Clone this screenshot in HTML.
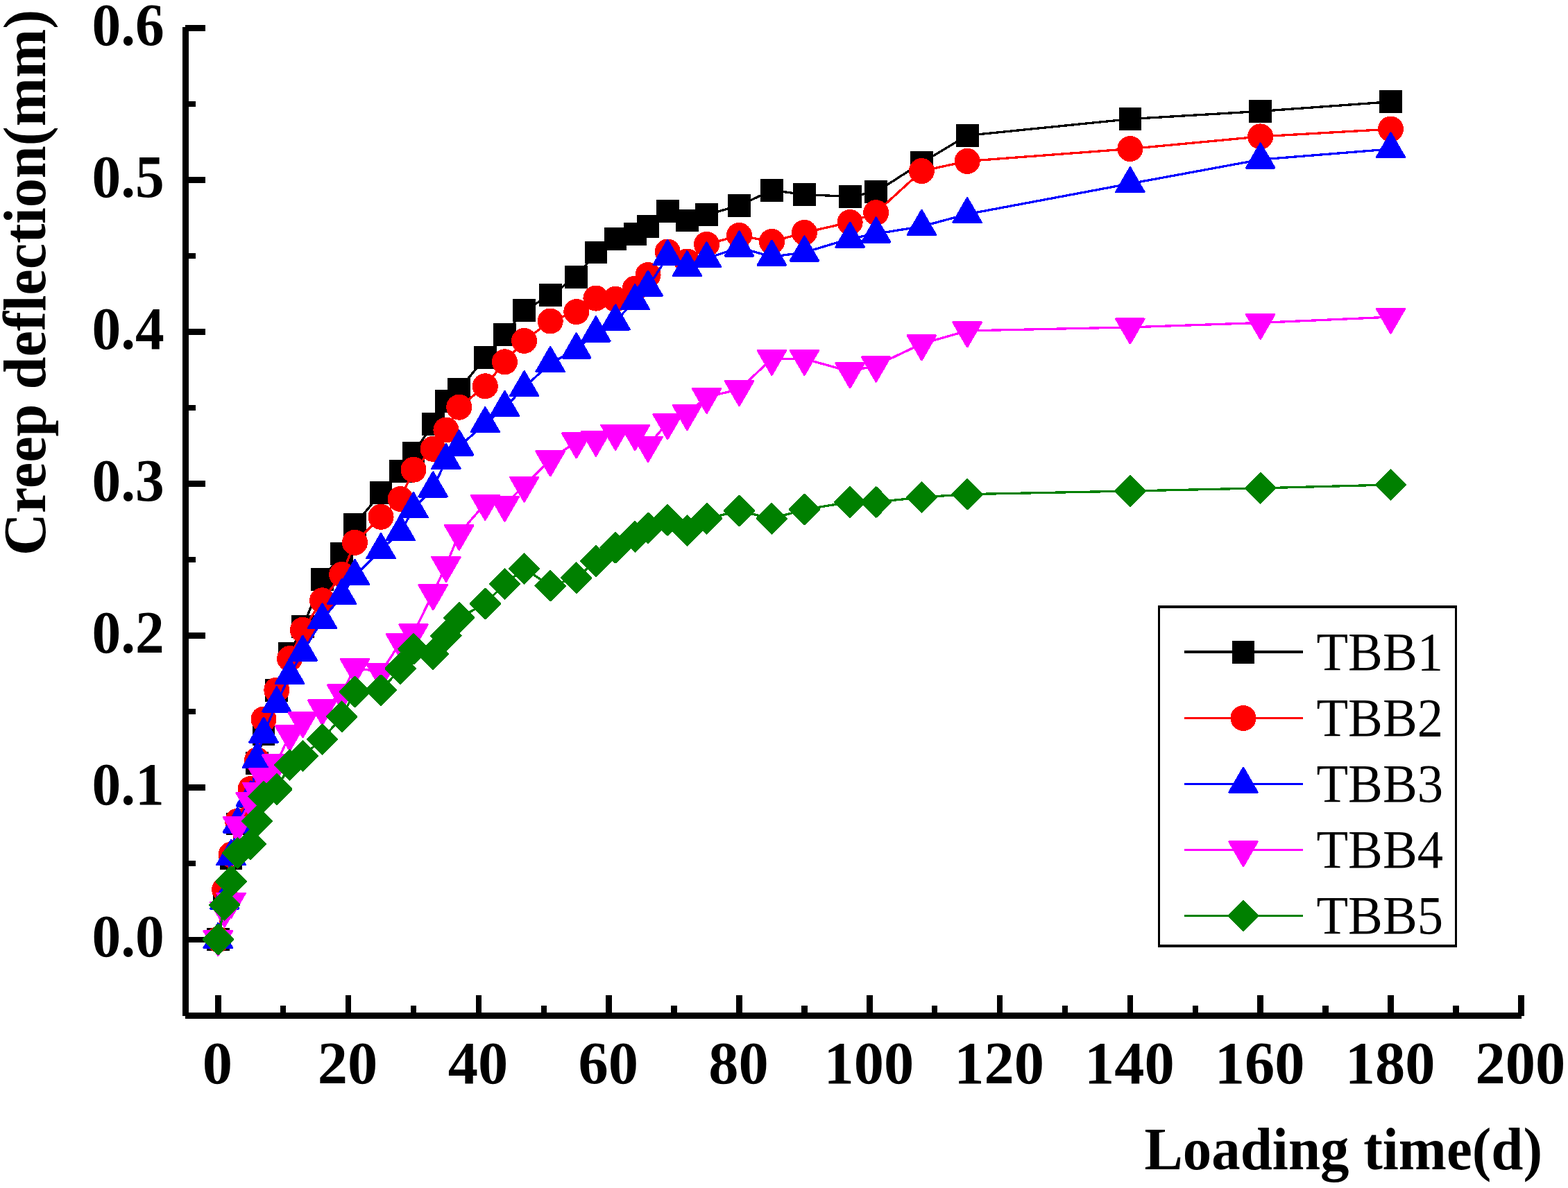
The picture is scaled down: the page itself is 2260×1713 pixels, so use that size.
<!DOCTYPE html>
<html lang="en"><head><meta charset="utf-8"><title>Creep deflection vs loading time</title>
<style>html,body{margin:0;padding:0;background:#fff}body{width:2260px;height:1713px;overflow:hidden}svg{display:block}text{font-family:"Liberation Serif","Times New Roman",Times,serif;fill:#000}.b{font-weight:bold}</style></head><body>
<svg width="2260" height="1713" viewBox="0 0 2260 1713">
<rect width="2260" height="1713" fill="#fff"/>
<g fill="#000" shape-rendering="crispEdges">
<rect x="263" y="39" width="9" height="1426"/>
<rect x="267" y="1460" width="1926" height="9"/>
<rect x="267" y="36" width="29" height="8.5"/>
<rect x="267" y="145.54" width="15" height="8.5"/>
<rect x="267" y="255.08" width="29" height="8.5"/>
<rect x="267" y="364.62" width="15" height="8.5"/>
<rect x="267" y="474.17" width="29" height="8.5"/>
<rect x="267" y="583.71" width="15" height="8.5"/>
<rect x="267" y="693.25" width="29" height="8.5"/>
<rect x="267" y="802.79" width="15" height="8.5"/>
<rect x="267" y="912.33" width="29" height="8.5"/>
<rect x="267" y="1021.88" width="15" height="8.5"/>
<rect x="267" y="1131.42" width="29" height="8.5"/>
<rect x="267" y="1240.96" width="15" height="8.5"/>
<rect x="267" y="1350.5" width="29" height="8.5"/>
<rect x="310" y="1435" width="8.5" height="30"/>
<rect x="403.9" y="1450" width="8.5" height="15"/>
<rect x="497.8" y="1435" width="8.5" height="30"/>
<rect x="591.7" y="1450" width="8.5" height="15"/>
<rect x="685.6" y="1435" width="8.5" height="30"/>
<rect x="779.5" y="1450" width="8.5" height="15"/>
<rect x="873.4" y="1435" width="8.5" height="30"/>
<rect x="967.3" y="1450" width="8.5" height="15"/>
<rect x="1061.2" y="1435" width="8.5" height="30"/>
<rect x="1155.1" y="1450" width="8.5" height="15"/>
<rect x="1249" y="1435" width="8.5" height="30"/>
<rect x="1342.9" y="1450" width="8.5" height="15"/>
<rect x="1436.8" y="1435" width="8.5" height="30"/>
<rect x="1530.7" y="1450" width="8.5" height="15"/>
<rect x="1624.6" y="1435" width="8.5" height="30"/>
<rect x="1718.5" y="1450" width="8.5" height="15"/>
<rect x="1812.4" y="1435" width="8.5" height="30"/>
<rect x="1906.3" y="1450" width="8.5" height="15"/>
<rect x="2000.2" y="1435" width="8.5" height="30"/>
<rect x="2094.1" y="1450" width="8.5" height="15"/>
<rect x="2188" y="1435" width="8.5" height="30"/>
</g>
<g class="b" font-size="86.5" text-anchor="end">
<text transform="translate(236.8 64.8) scale(0.965 1)">0.6</text>
<text transform="translate(236.8 283.88) scale(0.965 1)">0.5</text>
<text transform="translate(236.8 502.97) scale(0.965 1)">0.4</text>
<text transform="translate(236.8 722.05) scale(0.965 1)">0.3</text>
<text transform="translate(236.8 941.13) scale(0.965 1)">0.2</text>
<text transform="translate(236.8 1160.22) scale(0.965 1)">0.1</text>
<text transform="translate(236.8 1379.3) scale(0.965 1)">0.0</text>
</g>
<g class="b" font-size="86.5" text-anchor="middle">
<text x="313.3" y="1562">0</text>
<text x="501.1" y="1562">20</text>
<text x="688.9" y="1562">40</text>
<text x="876.7" y="1562">60</text>
<text x="1064.5" y="1562">80</text>
<text x="1252.3" y="1562">100</text>
<text x="1440.1" y="1562">120</text>
<text x="1627.9" y="1562">140</text>
<text x="1815.7" y="1562">160</text>
<text x="2003.5" y="1562">180</text>
<text x="2191.3" y="1562">200</text>
</g>
<text class="b" font-size="86.7" transform="translate(1649.5 1686) scale(0.9565 1)">Loading time(d)</text>
<text class="b" font-size="86.7" transform="translate(65 801) rotate(-90) scale(0.9725 1)">Creep deflection(mm)</text>
<g stroke-linejoin="round" shape-rendering="crispEdges">
<g fill="#000000" stroke="#000000"><polyline points="314.3,1354.5 323.69,1292 333.08,1238 342.47,1188 361.25,1148.2 370.64,1100.5 380.03,1058.5 398.81,995.2 417.59,942.5 436.37,903.8 464.54,835.4 492.71,798.7 511.49,756.7 549.05,710.6 577.22,679.5 596,653.7 624.17,611.4 642.95,578.8 661.73,561.8 699.29,515.7 727.46,482.5 755.63,447.6 793.19,425.6 830.75,399.5 858.92,364 887.09,344.8 915.26,337.7 934.04,326.3 962.21,304.2 990.38,318 1018.55,309.5 1065.5,296.5 1112.45,274.4 1159.4,280.5 1225.13,283.5 1262.69,276.7 1328.42,234.7 1394.15,195.4 1628.9,171.6 1816.7,160.4 2004.5,146.7" fill="none" stroke-width="3.3"/>
<path stroke-width="0" d="M297.9 1338.1H330.7V1370.9H297.9ZM307.29 1275.6H340.09V1308.4H307.29ZM316.68 1221.6H349.48V1254.4H316.68ZM326.07 1171.6H358.87V1204.4H326.07ZM344.85 1131.8H377.65V1164.6H344.85ZM354.24 1084.1H387.04V1116.9H354.24ZM363.63 1042.1H396.43V1074.9H363.63ZM382.41 978.8H415.21V1011.6H382.41ZM401.19 926.1H433.99V958.9H401.19ZM419.97 887.4H452.77V920.2H419.97ZM448.14 819H480.94V851.8H448.14ZM476.31 782.3H509.11V815.1H476.31ZM495.09 740.3H527.89V773.1H495.09ZM532.65 694.2H565.45V727H532.65ZM560.82 663.1H593.62V695.9H560.82ZM579.6 637.3H612.4V670.1H579.6ZM607.77 595H640.57V627.8H607.77ZM626.55 562.4H659.35V595.2H626.55ZM645.33 545.4H678.13V578.2H645.33ZM682.89 499.3H715.69V532.1H682.89ZM711.06 466.1H743.86V498.9H711.06ZM739.23 431.2H772.03V464H739.23ZM776.79 409.2H809.59V442H776.79ZM814.35 383.1H847.15V415.9H814.35ZM842.52 347.6H875.32V380.4H842.52ZM870.69 328.4H903.49V361.2H870.69ZM898.86 321.3H931.66V354.1H898.86ZM917.64 309.9H950.44V342.7H917.64ZM945.81 287.8H978.61V320.6H945.81ZM973.98 301.6H1006.78V334.4H973.98ZM1002.15 293.1H1034.95V325.9H1002.15ZM1049.1 280.1H1081.9V312.9H1049.1ZM1096.05 258H1128.85V290.8H1096.05ZM1143 264.1H1175.8V296.9H1143ZM1208.73 267.1H1241.53V299.9H1208.73ZM1246.29 260.3H1279.09V293.1H1246.29ZM1312.02 218.3H1344.82V251.1H1312.02ZM1377.75 179H1410.55V211.8H1377.75ZM1612.5 155.2H1645.3V188H1612.5ZM1800.3 144H1833.1V176.8H1800.3ZM1988.1 130.3H2020.9V163.1H1988.1Z"/>
</g>
<g fill="#ff0000" stroke="#ff0000"><polyline points="314.3,1354.5 323.69,1282.5 333.08,1232.3 342.47,1184 361.25,1137.5 370.64,1096 380.03,1037 398.81,995 417.59,949.6 436.37,908.3 464.54,865.8 492.71,828.4 511.49,782.3 549.05,745.3 577.22,719.5 596,677.2 624.17,647.3 642.95,620 661.73,587.2 699.29,556.8 727.46,521.8 755.63,491.4 793.19,463 830.75,449.6 858.92,430.1 887.09,431.4 915.26,416.2 934.04,396.5 962.21,363 990.38,377 1018.55,352.4 1065.5,339.5 1112.45,348.5 1159.4,335.4 1225.13,320.5 1262.69,306.6 1328.42,246.6 1394.15,232.4 1628.9,214.6 1816.7,196.9 2004.5,186.1" fill="none" stroke-width="3.3"/>
<path stroke-width="3" d="M297.3 1354.5a17 17 0 1 0 34 0a17 17 0 1 0 -34 0ZM306.69 1282.5a17 17 0 1 0 34 0a17 17 0 1 0 -34 0ZM316.08 1232.3a17 17 0 1 0 34 0a17 17 0 1 0 -34 0ZM325.47 1184a17 17 0 1 0 34 0a17 17 0 1 0 -34 0ZM344.25 1137.5a17 17 0 1 0 34 0a17 17 0 1 0 -34 0ZM353.64 1096a17 17 0 1 0 34 0a17 17 0 1 0 -34 0ZM363.03 1037a17 17 0 1 0 34 0a17 17 0 1 0 -34 0ZM381.81 995a17 17 0 1 0 34 0a17 17 0 1 0 -34 0ZM400.59 949.6a17 17 0 1 0 34 0a17 17 0 1 0 -34 0ZM419.37 908.3a17 17 0 1 0 34 0a17 17 0 1 0 -34 0ZM447.54 865.8a17 17 0 1 0 34 0a17 17 0 1 0 -34 0ZM475.71 828.4a17 17 0 1 0 34 0a17 17 0 1 0 -34 0ZM494.49 782.3a17 17 0 1 0 34 0a17 17 0 1 0 -34 0ZM532.05 745.3a17 17 0 1 0 34 0a17 17 0 1 0 -34 0ZM560.22 719.5a17 17 0 1 0 34 0a17 17 0 1 0 -34 0ZM579 677.2a17 17 0 1 0 34 0a17 17 0 1 0 -34 0ZM607.17 647.3a17 17 0 1 0 34 0a17 17 0 1 0 -34 0ZM625.95 620a17 17 0 1 0 34 0a17 17 0 1 0 -34 0ZM644.73 587.2a17 17 0 1 0 34 0a17 17 0 1 0 -34 0ZM682.29 556.8a17 17 0 1 0 34 0a17 17 0 1 0 -34 0ZM710.46 521.8a17 17 0 1 0 34 0a17 17 0 1 0 -34 0ZM738.63 491.4a17 17 0 1 0 34 0a17 17 0 1 0 -34 0ZM776.19 463a17 17 0 1 0 34 0a17 17 0 1 0 -34 0ZM813.75 449.6a17 17 0 1 0 34 0a17 17 0 1 0 -34 0ZM841.92 430.1a17 17 0 1 0 34 0a17 17 0 1 0 -34 0ZM870.09 431.4a17 17 0 1 0 34 0a17 17 0 1 0 -34 0ZM898.26 416.2a17 17 0 1 0 34 0a17 17 0 1 0 -34 0ZM917.04 396.5a17 17 0 1 0 34 0a17 17 0 1 0 -34 0ZM945.21 363a17 17 0 1 0 34 0a17 17 0 1 0 -34 0ZM973.38 377a17 17 0 1 0 34 0a17 17 0 1 0 -34 0ZM1001.55 352.4a17 17 0 1 0 34 0a17 17 0 1 0 -34 0ZM1048.5 339.5a17 17 0 1 0 34 0a17 17 0 1 0 -34 0ZM1095.45 348.5a17 17 0 1 0 34 0a17 17 0 1 0 -34 0ZM1142.4 335.4a17 17 0 1 0 34 0a17 17 0 1 0 -34 0ZM1208.13 320.5a17 17 0 1 0 34 0a17 17 0 1 0 -34 0ZM1245.69 306.6a17 17 0 1 0 34 0a17 17 0 1 0 -34 0ZM1311.42 246.6a17 17 0 1 0 34 0a17 17 0 1 0 -34 0ZM1377.15 232.4a17 17 0 1 0 34 0a17 17 0 1 0 -34 0ZM1611.9 214.6a17 17 0 1 0 34 0a17 17 0 1 0 -34 0ZM1799.7 196.9a17 17 0 1 0 34 0a17 17 0 1 0 -34 0ZM1987.5 186.1a17 17 0 1 0 34 0a17 17 0 1 0 -34 0Z"/>
</g>
<g fill="#0000ff" stroke="#0000ff"><polyline points="314.3,1354.5 323.69,1298 333.08,1234.9 342.47,1188 361.25,1150 370.64,1094.4 380.03,1058.2 398.81,1014 417.59,973.5 436.37,940.2 464.54,893.8 492.71,858.7 511.49,830.6 549.05,792.8 577.22,766.8 596,733.8 624.17,704 642.95,663.7 661.73,644 699.29,610.8 727.46,587.5 755.63,558.8 793.19,523.7 830.75,504 858.92,480 887.09,463 915.26,433.8 934.04,414.1 962.21,369.8 990.38,385.7 1018.55,372.8 1065.5,357 1112.45,370.2 1159.4,364 1225.13,344.2 1262.69,337.1 1328.42,326.5 1394.15,308.8 1628.9,264.8 1816.7,230.1 2004.5,214.9" fill="none" stroke-width="3.3"/>
<path stroke-width="3" d="M294.05 1366.5H334.55L314.3 1331.4ZM303.44 1310H343.94L323.69 1274.9ZM312.83 1246.9H353.33L333.08 1211.8ZM322.22 1200H362.72L342.47 1164.9ZM341 1162H381.5L361.25 1126.9ZM350.39 1106.4H390.89L370.64 1071.3ZM359.78 1070.2H400.28L380.03 1035.1ZM378.56 1026H419.06L398.81 990.9ZM397.34 985.5H437.84L417.59 950.4ZM416.12 952.2H456.62L436.37 917.1ZM444.29 905.8H484.79L464.54 870.7ZM472.46 870.7H512.96L492.71 835.6ZM491.24 842.6H531.74L511.49 807.5ZM528.8 804.8H569.3L549.05 769.7ZM556.97 778.8H597.47L577.22 743.7ZM575.75 745.8H616.25L596 710.7ZM603.92 716H644.42L624.17 680.9ZM622.7 675.7H663.2L642.95 640.6ZM641.48 656H681.98L661.73 620.9ZM679.04 622.8H719.54L699.29 587.7ZM707.21 599.5H747.71L727.46 564.4ZM735.38 570.8H775.88L755.63 535.7ZM772.94 535.7H813.44L793.19 500.6ZM810.5 516H851L830.75 480.9ZM838.67 492H879.17L858.92 456.9ZM866.84 475H907.34L887.09 439.9ZM895.01 445.8H935.51L915.26 410.7ZM913.79 426.1H954.29L934.04 391ZM941.96 381.8H982.46L962.21 346.7ZM970.13 397.7H1010.63L990.38 362.6ZM998.3 384.8H1038.8L1018.55 349.7ZM1045.25 369H1085.75L1065.5 333.9ZM1092.2 382.2H1132.7L1112.45 347.1ZM1139.15 376H1179.65L1159.4 340.9ZM1204.88 356.2H1245.38L1225.13 321.1ZM1242.44 349.1H1282.94L1262.69 314ZM1308.17 338.5H1348.67L1328.42 303.4ZM1373.9 320.8H1414.4L1394.15 285.7ZM1608.65 276.8H1649.15L1628.9 241.7ZM1796.45 242.1H1836.95L1816.7 207ZM1984.25 226.9H2024.75L2004.5 191.8Z"/>
</g>
<g fill="#ff00ff" stroke="#ff00ff"><polyline points="314.3,1354.5 323.69,1313 333.08,1300 342.47,1190 361.25,1155.4 370.64,1141 380.03,1120.6 398.81,1100.7 417.59,1058.8 436.37,1039.6 464.54,1021.8 492.71,999.8 511.49,962.4 549.05,969.5 577.22,926 596,912.6 624.17,855.6 642.95,815.3 661.73,769.5 699.29,726.2 727.46,728 755.63,700 793.19,662.9 830.75,636.8 858.92,634 887.09,625.1 915.26,625.5 934.04,642.3 962.21,609.6 990.38,596.5 1018.55,572.3 1065.5,561.5 1112.45,517.3 1159.4,517.3 1225.13,535.8 1262.69,526.9 1328.42,495.8 1394.15,476.9 1628.9,471.9 1816.7,465.4 2004.5,457.1" fill="none" stroke-width="3.3"/>
<path stroke-width="3" d="M294.05 1342.5H334.55L314.3 1377.6ZM303.44 1301H343.94L323.69 1336.1ZM312.83 1288H353.33L333.08 1323.1ZM322.22 1178H362.72L342.47 1213.1ZM341 1143.4H381.5L361.25 1178.5ZM350.39 1129H390.89L370.64 1164.1ZM359.78 1108.6H400.28L380.03 1143.7ZM378.56 1088.7H419.06L398.81 1123.8ZM397.34 1046.8H437.84L417.59 1081.9ZM416.12 1027.6H456.62L436.37 1062.7ZM444.29 1009.8H484.79L464.54 1044.9ZM472.46 987.8H512.96L492.71 1022.9ZM491.24 950.4H531.74L511.49 985.5ZM528.8 957.5H569.3L549.05 992.6ZM556.97 914H597.47L577.22 949.1ZM575.75 900.6H616.25L596 935.7ZM603.92 843.6H644.42L624.17 878.7ZM622.7 803.3H663.2L642.95 838.4ZM641.48 757.5H681.98L661.73 792.6ZM679.04 714.2H719.54L699.29 749.3ZM707.21 716H747.71L727.46 751.1ZM735.38 688H775.88L755.63 723.1ZM772.94 650.9H813.44L793.19 686ZM810.5 624.8H851L830.75 659.9ZM838.67 622H879.17L858.92 657.1ZM866.84 613.1H907.34L887.09 648.2ZM895.01 613.5H935.51L915.26 648.6ZM913.79 630.3H954.29L934.04 665.4ZM941.96 597.6H982.46L962.21 632.7ZM970.13 584.5H1010.63L990.38 619.6ZM998.3 560.3H1038.8L1018.55 595.4ZM1045.25 549.5H1085.75L1065.5 584.6ZM1092.2 505.3H1132.7L1112.45 540.4ZM1139.15 505.3H1179.65L1159.4 540.4ZM1204.88 523.8H1245.38L1225.13 558.9ZM1242.44 514.9H1282.94L1262.69 550ZM1308.17 483.8H1348.67L1328.42 518.9ZM1373.9 464.9H1414.4L1394.15 500ZM1608.65 459.9H1649.15L1628.9 495ZM1796.45 453.4H1836.95L1816.7 488.5ZM1984.25 445.1H2024.75L2004.5 480.2Z"/>
</g>
<g fill="#008000" stroke="#008000"><polyline points="314.3,1354.5 323.69,1304.8 333.08,1271.2 342.47,1230 361.25,1217.1 370.64,1184 380.03,1148.5 398.81,1138 417.59,1103 436.37,1090 464.54,1066 492.71,1033.2 511.49,997.7 549.05,995.2 577.22,964 596,935.7 624.17,943.3 642.95,916.7 661.73,890.9 699.29,870.4 727.46,842 755.63,820 793.19,844.6 830.75,833.2 858.92,809 887.09,789.8 915.26,773.9 934.04,761.3 962.21,749.9 990.38,765 1018.55,747.8 1065.5,736.7 1112.45,747.8 1159.4,734.7 1225.13,724 1262.69,724 1328.42,717 1394.15,712.7 1628.9,708 1816.7,703.9 2004.5,698.9" fill="none" stroke-width="3.3"/>
<path stroke-width="3" d="M293.1 1354.5L314.3 1333.3L335.5 1354.5L314.3 1375.7ZM302.49 1304.8L323.69 1283.6L344.89 1304.8L323.69 1326ZM311.88 1271.2L333.08 1250L354.28 1271.2L333.08 1292.4ZM321.27 1230L342.47 1208.8L363.67 1230L342.47 1251.2ZM340.05 1217.1L361.25 1195.9L382.45 1217.1L361.25 1238.3ZM349.44 1184L370.64 1162.8L391.84 1184L370.64 1205.2ZM358.83 1148.5L380.03 1127.3L401.23 1148.5L380.03 1169.7ZM377.61 1138L398.81 1116.8L420.01 1138L398.81 1159.2ZM396.39 1103L417.59 1081.8L438.79 1103L417.59 1124.2ZM415.17 1090L436.37 1068.8L457.57 1090L436.37 1111.2ZM443.34 1066L464.54 1044.8L485.74 1066L464.54 1087.2ZM471.51 1033.2L492.71 1012L513.91 1033.2L492.71 1054.4ZM490.29 997.7L511.49 976.5L532.69 997.7L511.49 1018.9ZM527.85 995.2L549.05 974L570.25 995.2L549.05 1016.4ZM556.02 964L577.22 942.8L598.42 964L577.22 985.2ZM574.8 935.7L596 914.5L617.2 935.7L596 956.9ZM602.97 943.3L624.17 922.1L645.37 943.3L624.17 964.5ZM621.75 916.7L642.95 895.5L664.15 916.7L642.95 937.9ZM640.53 890.9L661.73 869.7L682.93 890.9L661.73 912.1ZM678.09 870.4L699.29 849.2L720.49 870.4L699.29 891.6ZM706.26 842L727.46 820.8L748.66 842L727.46 863.2ZM734.43 820L755.63 798.8L776.83 820L755.63 841.2ZM771.99 844.6L793.19 823.4L814.39 844.6L793.19 865.8ZM809.55 833.2L830.75 812L851.95 833.2L830.75 854.4ZM837.72 809L858.92 787.8L880.12 809L858.92 830.2ZM865.89 789.8L887.09 768.6L908.29 789.8L887.09 811ZM894.06 773.9L915.26 752.7L936.46 773.9L915.26 795.1ZM912.84 761.3L934.04 740.1L955.24 761.3L934.04 782.5ZM941.01 749.9L962.21 728.7L983.41 749.9L962.21 771.1ZM969.18 765L990.38 743.8L1011.58 765L990.38 786.2ZM997.35 747.8L1018.55 726.6L1039.75 747.8L1018.55 769ZM1044.3 736.7L1065.5 715.5L1086.7 736.7L1065.5 757.9ZM1091.25 747.8L1112.45 726.6L1133.65 747.8L1112.45 769ZM1138.2 734.7L1159.4 713.5L1180.6 734.7L1159.4 755.9ZM1203.93 724L1225.13 702.8L1246.33 724L1225.13 745.2ZM1241.49 724L1262.69 702.8L1283.89 724L1262.69 745.2ZM1307.22 717L1328.42 695.8L1349.62 717L1328.42 738.2ZM1372.95 712.7L1394.15 691.5L1415.35 712.7L1394.15 733.9ZM1607.7 708L1628.9 686.8L1650.1 708L1628.9 729.2ZM1795.5 703.9L1816.7 682.7L1837.9 703.9L1816.7 725.1ZM1983.3 698.9L2004.5 677.7L2025.7 698.9L2004.5 720.1Z"/>
</g>
</g>
<g shape-rendering="crispEdges">
<path d="M1669 873H2100V1366H1669ZM1672 877V1362H2097V877Z" fill="#000" fill-rule="evenodd"/>
<g fill="#000000" stroke="#000000" stroke-linejoin="round"><line x1="1707" y1="940" x2="1878" y2="940" stroke-width="4"/><path stroke-width="0" d="M1775.6 924.1H1808.4V956.9H1775.6Z"/></g>
<g fill="#ff0000" stroke="#ff0000" stroke-linejoin="round"><line x1="1707" y1="1035.5" x2="1878" y2="1035.5" stroke-width="3.3"/><path stroke-width="3" d="M1775 1035.5a17 17 0 1 0 34 0a17 17 0 1 0 -34 0Z"/></g>
<g fill="#0000ff" stroke="#0000ff" stroke-linejoin="round"><line x1="1707" y1="1130.5" x2="1878" y2="1130.5" stroke-width="3.3"/><path stroke-width="3" d="M1771.75 1142.5H1812.25L1792 1107.4Z"/></g>
<g fill="#ff00ff" stroke="#ff00ff" stroke-linejoin="round"><line x1="1707" y1="1225.5" x2="1878" y2="1225.5" stroke-width="3.3"/><path stroke-width="3" d="M1771.75 1213.5H1812.25L1792 1248.6Z"/></g>
<g fill="#008000" stroke="#008000" stroke-linejoin="round"><line x1="1707" y1="1320.5" x2="1878" y2="1320.5" stroke-width="3.3"/><path stroke-width="3" d="M1770.8 1320.5L1792 1299.3L1813.2 1320.5L1792 1341.7Z"/></g>
</g>
<text font-size="79" transform="translate(1897.5 965.5) scale(0.945 1)">TBB1</text>
<text font-size="79" transform="translate(1897.5 1061) scale(0.945 1)">TBB2</text>
<text font-size="79" transform="translate(1897.5 1156) scale(0.945 1)">TBB3</text>
<text font-size="79" transform="translate(1897.5 1251) scale(0.945 1)">TBB4</text>
<text font-size="79" transform="translate(1897.5 1346) scale(0.945 1)">TBB5</text>
</svg></body></html>
